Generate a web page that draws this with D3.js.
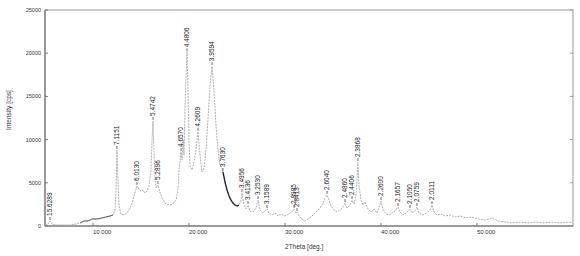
<!DOCTYPE html>
<html>
<head>
<meta charset="utf-8">
<script src="https://cdn.jsdelivr.net/npm/d3@7"></script>
<style>
	body { margin: 0; background: #fff; }
	text { font-family: "Liberation Sans", Arial, sans-serif; fill: #333; }
</style>
</head>
<body>
<svg id="chart" width="580" height="256"></svg>
<script>
// scan: 2theta (deg) and intensity (cps)
var twoTheta = [5.0, 5.31, 5.52, 5.73, 6.15, 6.77, 7.6, 8.23, 8.65, 9.06, 9.48, 9.9, 10.42, 10.94, 11.35, 11.77, 12.08, 12.29, 12.4, 12.5, 12.6, 12.71, 12.92, 13.23, 13.54, 13.85, 14.17, 14.38, 14.58, 14.79, 15.0, 15.21, 15.42, 15.63, 15.83, 16.04, 16.15, 16.25, 16.35, 16.46, 16.56, 16.77, 16.98, 17.29, 17.6, 18.02, 18.33, 18.65, 18.85, 18.96, 19.17, 19.27, 19.38, 19.48, 19.58, 19.69, 19.79, 19.9, 20.0, 20.1, 20.31, 20.52, 20.73, 20.94, 21.15, 21.35, 21.56, 21.77, 21.98, 22.19, 22.4, 22.6, 22.81, 23.02, 23.23, 23.44, 23.54, 23.75, 23.96, 24.17, 24.38, 24.58, 24.79, 25.0, 25.21, 25.42, 25.52, 25.73, 25.94, 26.15, 26.35, 26.67, 26.98, 27.19, 27.4, 27.71, 27.92, 28.13, 28.33, 28.65, 28.96, 29.27, 29.58, 29.9, 30.21, 30.52, 30.73, 30.94, 31.15, 31.25, 31.46, 31.77, 32.08, 32.4, 32.71, 33.02, 33.33, 33.65, 33.96, 34.17, 34.38, 34.58, 34.79, 35.1, 35.42, 35.73, 36.04, 36.25, 36.46, 36.77, 36.98, 37.19, 37.4, 37.5, 37.6, 37.71, 37.92, 38.13, 38.33, 38.65, 38.96, 39.27, 39.58, 39.79, 40.0, 40.21, 40.52, 40.83, 41.15, 41.46, 41.77, 41.98, 42.29, 42.6, 42.81, 43.02, 43.23, 43.54, 43.75, 43.96, 44.27, 44.58, 44.9, 45.1, 45.31, 45.52, 45.83, 46.25, 46.67, 47.19, 47.71, 48.23, 48.85, 49.48, 50.1, 50.83, 51.56, 52.19, 52.92, 53.65, 54.48, 55.31, 56.15, 56.98, 57.81, 58.65, 59.48, 60.0];
var intensity = [100, 230, 580, 230, 120, 120, 110, 230, 350, 580, 580, 810, 810, 930, 1040, 1160, 1270, 1850, 4170, 8800, 5300, 2430, 1390, 1270, 1500, 2080, 3000, 3930, 4630, 4280, 4050, 4170, 3820, 4050, 4630, 6480, 9950, 12150, 8800, 5550, 4400, 4740, 3820, 3000, 2550, 2430, 2550, 3000, 4170, 6480, 8560, 7640, 9950, 8200, 13400, 17500, 20100, 15700, 9950, 7060, 6480, 7400, 8800, 10900, 8200, 6250, 6710, 8800, 12300, 16300, 18500, 15700, 11700, 8800, 7060, 6710, 6250, 5090, 4170, 3470, 3000, 2660, 2430, 2310, 2430, 3000, 3820, 2430, 1970, 2430, 1740, 1620, 2080, 3000, 1850, 1500, 1740, 1970, 1500, 1270, 1500, 1160, 1390, 1160, 1270, 1500, 1620, 1970, 1500, 1620, 1160, 810, 580, 810, 1040, 1390, 1740, 2080, 2660, 3240, 3590, 3000, 2310, 1850, 1620, 1850, 2200, 2660, 2080, 2430, 3000, 2550, 3590, 5320, 7400, 4740, 3000, 2430, 2780, 1970, 1620, 1970, 1500, 2080, 2890, 1850, 1390, 1270, 1500, 1740, 2200, 1620, 1270, 1500, 1740, 1970, 1500, 1740, 2200, 1500, 1270, 1390, 1620, 1850, 2430, 1620, 1270, 1390, 1160, 1270, 1040, 1160, 930, 1040, 810, 690, 930, 580, 460, 350, 460, 350, 460, 350, 460, 350, 460, 350];

// labelled peaks: d-spacing text, position and height
var peakD = ["15.6289", "7.1151", "6.0130", "5.4742", "5.2896", "4.6570", "4.4806", "4.2609", "3.9594", "3.7630", "3.4956", "3.4136", "3.2530", "3.1589", "2.8985", "2.8413", "2.6040", "2.4860", "2.4406", "2.3868", "2.2600", "2.1657", "2.1050", "2.0759", "2.0111"];
var peakTheta = [5.52, 12.5, 14.58, 16.25, 16.77, 19.17, 19.79, 20.94, 22.4, 23.54, 25.52, 26.15, 27.19, 28.13, 30.94, 31.25, 34.38, 36.25, 36.98, 37.6, 40.0, 41.77, 43.02, 43.75, 45.31];
var peakCps = [580, 8800, 4630, 12150, 4740, 8560, 20100, 10900, 18500, 6250, 3820, 2430, 3000, 1970, 1970, 1620, 3590, 2660, 3000, 7400, 2890, 2200, 1970, 2200, 2430];

var xTicks = [10, 20, 30, 40, 50];
var yTicks = [0, 5000, 10000, 15000, 20000, 25000];

var svg = d3.select("#chart");
var margin = {top: 10, right: 7, bottom: 30, left: 45},
	width = 580 - margin.left - margin.right,
	height = 256 - margin.top - margin.bottom;

var x = d3.scaleLinear().domain([5, 60]).range([0, width]);
var y = d3.scaleLinear().domain([0, 25000]).range([height, 0]);

var g = svg.append("g").attr("transform", "translate(" + margin.left + "," + margin.top + ")");

// frame: top/right lighter as in the scan
g.append("rect")
	.attr("width", width).attr("height", height)
	.attr("fill", "none").attr("stroke", "#999").attr("stroke-width", 1);
g.append("line").attr("x1", 0).attr("x2", width).attr("y1", height).attr("y2", height).attr("stroke", "#666");
g.append("line").attr("x1", 0).attr("x2", 0).attr("y1", 0).attr("y2", height).attr("stroke", "#666");

// ticks inward, left and right
yTicks.forEach(function(d) {
	g.append("line").attr("x1", 0).attr("x2", 3).attr("y1", y(d)).attr("y2", y(d)).attr("stroke", "#777");
	g.append("line").attr("x1", width).attr("x2", width - 3).attr("y1", y(d)).attr("y2", y(d)).attr("stroke", "#999");
});
xTicks.forEach(function(d) {
	g.append("line").attr("x1", x(d)).attr("x2", x(d)).attr("y1", height).attr("y2", height - 3).attr("stroke", "#777");
});

g.selectAll(".ytl").data(yTicks).enter().append("text")
	.attr("x", -4).attr("y", function(d) { return y(d); })
	.attr("dy", "0.35em").attr("text-anchor", "end")
	.style("font-size", "5.5px")
	.text(function(d) { return d; });

var fmt = d3.format(".3f");
g.selectAll(".xtl").data(xTicks).enter().append("text")
	.attr("x", function(d) { return x(d); }).attr("y", height + 8)
	.style("font-size", "6px")
	.text(function(d) { return fmt(d); });

g.append("text")
	.attr("transform", "translate(-36," + (y(12500) - 8) + ") rotate(-90)")
	.attr("text-anchor", "middle").attr("dy", "0.35em")
	.style("font-size", "6.5px")
	.text("Intensity [cps]");

g.append("text")
	.attr("x", x(32)).attr("y", height + 23)
	.attr("text-anchor", "middle")
	.style("font-size", "6.5px")
	.text("2Theta [deg.]");

// pattern
var pts = twoTheta.map(function(t, i) { return [t, intensity[i]]; });
var line = d3.line().x(function(d) { return x(d[0]); }).y(function(d) { return y(d[1]); });

g.append("path")
	.datum(pts)
	.attr("d", line)
	.attr("fill", "none").attr("stroke", "#a5a5a5").attr("stroke-width", 0.9)
	.attr("stroke-dasharray", "2,1");

// darker stretches, as in the scan
g.append("path")
	.datum(pts.filter(function(d) { return d[0] >= 23.5 && d[0] <= 25.3; }))
	.attr("d", line)
	.attr("fill", "none").attr("stroke", "#222").attr("stroke-width", 1.3);
g.append("path")
	.datum(pts.filter(function(d) { return d[0] >= 8.6 && d[0] <= 12.1; }))
	.attr("d", line)
	.attr("fill", "none").attr("stroke", "#555").attr("stroke-width", 0.9);

// peak labels
peakD.forEach(function(d, i) {
	var px = x(peakTheta[i]), py = y(peakCps[i]);
	g.append("line")
		.attr("x1", px).attr("x2", px).attr("y1", py - 1).attr("y2", py - 4)
		.attr("stroke", "#444").attr("stroke-width", 0.8);
	g.append("text")
		.attr("transform", "translate(" + px + "," + (py - 5) + ") rotate(-90)")
		.attr("dy", "0.35em")
		.style("font-size", "6.5px").style("fill", "#222")
		.text(d);
});
</script>
</body>
</html>
